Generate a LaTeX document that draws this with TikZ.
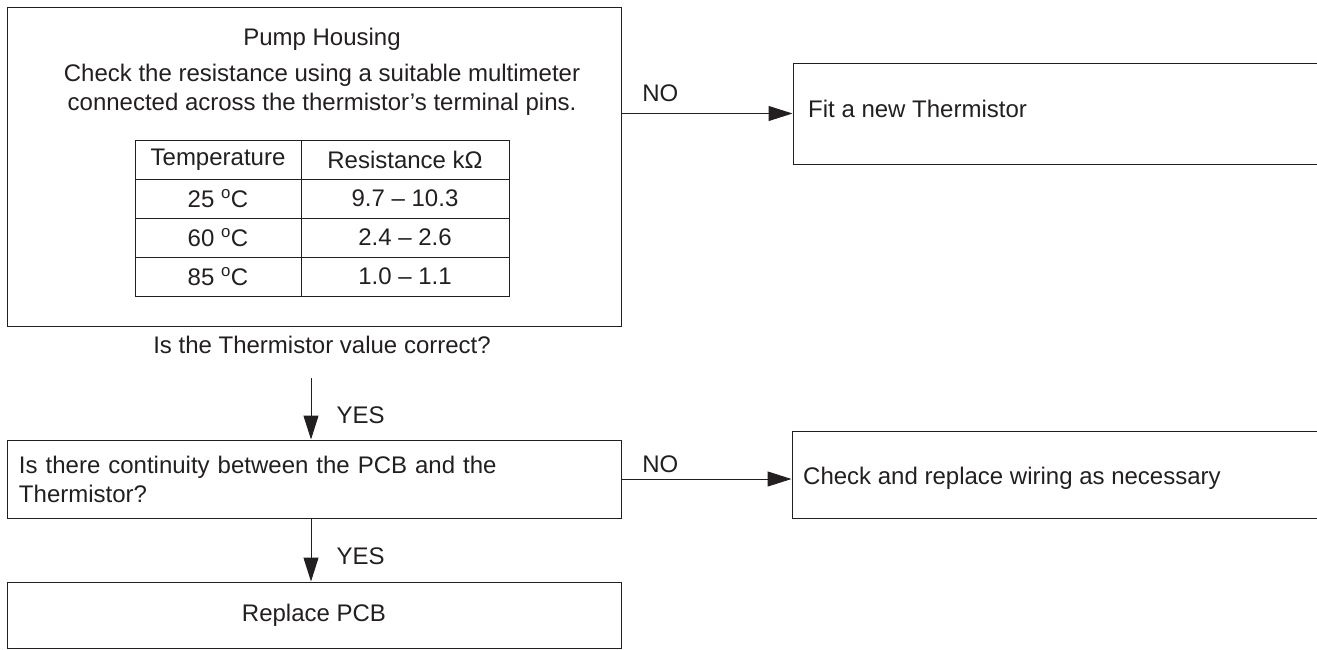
\documentclass[tikz,border=0pt]{standalone}
\usepackage{fontspec}
\setmainfont{Liberation Sans}
\usepackage{tikz}
\usetikzlibrary{arrows.meta,positioning}
\definecolor{tsink}{HTML}{231F20}
\newcommand{\tstext}{\fontsize{24}{29}\selectfont}
\tikzset{
  tsbox/.style={draw=tsink, line width=1pt, inner sep=0pt, font=\tstext, text=tsink},
  tstempcell/.style={tsbox, minimum width=166pt, minimum height=39pt},
  tsrescell/.style={tsbox, minimum width=208pt, minimum height=39pt},
  tslabel/.style={font=\tstext, text=tsink, inner sep=0pt},
  tsarrow/.style={-{Triangle[length=24pt,width=15pt]}, draw=tsink, line width=1pt},
}

\begin{document}
\begin{tikzpicture}[x=1pt,y=1pt]
  \useasboundingbox (0,0) rectangle (1317,-649);

  \node[tsbox, minimum width=614pt, minimum height=319pt] (housing) at (314,-166.5) {};
  \node[tslabel] (title) at (322,-39) {Pump Housing};
  \node[tslabel, align=center] (instr) at (322,-89.5)
    {Check the resistance using a suitable multimeter\\connected across the thermistor’s terminal pins.};

  \node[tstempcell] (hdtemp) at (218,-159.5) {Temperature};
  \node[tsrescell]  (hdres)  at (405,-159.5) {Resistance kΩ};
  \node[tstempcell] (t25) at (218,-198.5) {25 \textsuperscript{o}C};
  \node[tsrescell]  (r25) at (405,-198.5) {9.7 – 10.3};
  \node[tstempcell] (t60) at (218,-237.5) {60 \textsuperscript{o}C};
  \node[tsrescell]  (r60) at (405,-237.5) {2.4 – 2.6};
  \node[tstempcell] (t85) at (218,-276.5) {85 \textsuperscript{o}C};
  \node[tsrescell]  (r85) at (405,-276.5) {1.0 – 1.1};

  \node[tslabel] (question) at (322,-345) {Is the Thermistor value correct?};
  \coordinate (yestop) at (311,-378);

  \node[tsbox, minimum width=614pt, minimum height=78pt, text width=590pt, align=left] (continuity) at (314,-479)
    {Is there continuity between the PCB and the\\Thermistor?};
  \node[tsbox, minimum width=614pt, minimum height=66pt] (pcb) at (314,-615) {Replace PCB};

  \node[tsbox, minimum width=527pt, minimum height=101pt] (fitbox) at (1056.5,-113.5) {};
  \node[tslabel, anchor=west] (fittext) at (808,-109) {Fit a new Thermistor};
  \node[tsbox, minimum width=528pt, minimum height=87pt] (wirebox) at (1056,-475) {};
  \node[tslabel, anchor=west] (wiretext) at (803,-478) {Check and replace wiring as necessary};

  \draw[tsarrow] (housing.east |- fitbox.west) -- node[tslabel, pos=0.227, above=11pt] (no1) {NO} (fitbox.west);
  \draw[tsarrow] (yestop) -- node[tslabel, pos=0.6, right=25pt] (yes1) {YES} (yestop |- continuity.north);
  \draw[tsarrow] (continuity.east) -- node[tslabel, pos=0.228, above=5.6pt] (no2) {NO} (continuity.east -| wirebox.west);
  \draw[tsarrow] (continuity.south -| yestop) -- node[tslabel, pos=0.6, right=25pt] (yes2) {YES} (pcb.north -| yestop);
\end{tikzpicture}
\end{document}
